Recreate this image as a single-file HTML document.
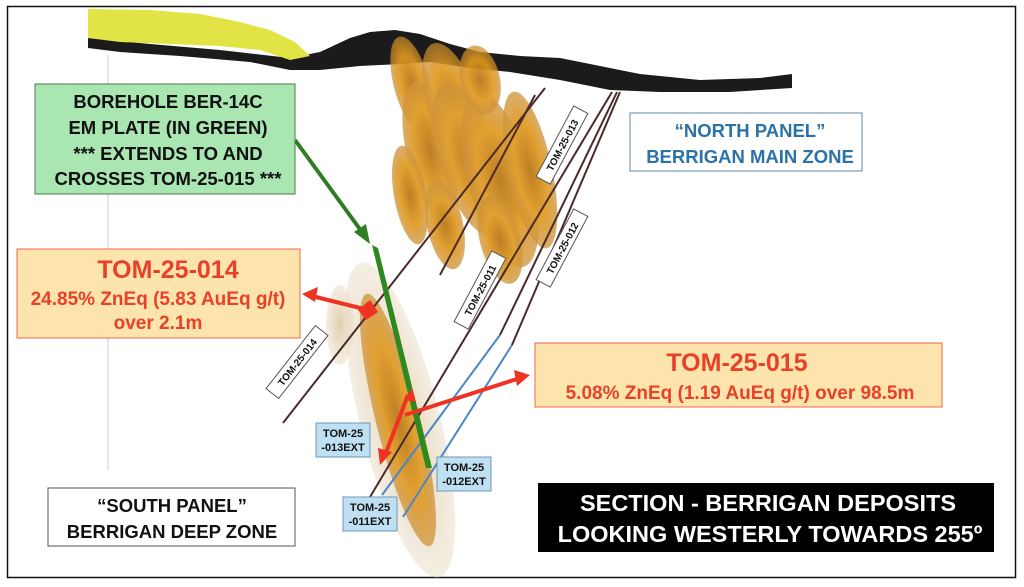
<!DOCTYPE html>
<html><head><meta charset="utf-8"><style>
html,body{margin:0;padding:0;background:#fff;}
svg{display:block;font-family:"Liberation Sans",sans-serif;font-weight:bold;}
</style></head><body>
<svg width="1024" height="587" viewBox="0 0 1024 587" xmlns="http://www.w3.org/2000/svg">
<defs>
<radialGradient id="og" cx="50%" cy="50%" r="50%">
<stop offset="0" stop-color="#b87414"/><stop offset="0.6" stop-color="#e0991f"/><stop offset="1" stop-color="#c98a2a" stop-opacity="0.75"/>
</radialGradient>
<radialGradient id="pg" cx="50%" cy="50%" r="50%">
<stop offset="0" stop-color="#c9a56a" stop-opacity="0.6"/><stop offset="1" stop-color="#e8dcc4" stop-opacity="0.5"/>
</radialGradient>
</defs>
<rect x="0" y="0" width="1024" height="587" fill="#fff"/>
<rect x="7.5" y="6.5" width="1008" height="571" fill="none" stroke="#111" stroke-width="1.5"/>
<line x1="108" y1="55" x2="108" y2="470" stroke="#c8c8e8" stroke-width="1"/>
<!-- terrain -->
<path d="M88,38 L150,44 L220,50 L290,58 L320,52 L350,38 L370,32 L395,30 L420,34 L450,44 L480,52 L520,56 L560,58 L600,66 L640,74 L700,80 L760,78 L792,74 L792,88 L730,92 L660,92 L610,90 L560,80 L510,72 L470,68 L430,62 L400,64 L360,66 L320,70 L290,70 L250,62 L180,56 L120,52 L88,48 Z" fill="#1b1b1b"/>
<path d="M88,9 L150,10 L200,14 L240,22 L270,30 L295,42 L310,56 L290,60 L260,50 L220,46 L170,44 L120,42 L88,38 Z" fill="#e2e445"/>
<!-- ore bodies -->
<g opacity="0.92">
<ellipse cx="260" cy="115" rx="10" ry="30" fill="url(#pg)" transform="rotate(-12 260 115)"/>
<ellipse cx="340" cy="325" rx="14" ry="40" fill="url(#pg)"/>
<ellipse cx="412" cy="85" rx="18" ry="50" fill="url(#og)" transform="rotate(-15 412 85)"/>
<ellipse cx="430" cy="150" rx="24" ry="70" fill="url(#og)" transform="rotate(-12 430 150)"/>
<ellipse cx="455" cy="110" rx="26" ry="70" fill="url(#og)" transform="rotate(-18 455 110)"/>
<ellipse cx="470" cy="160" rx="30" ry="80" fill="url(#og)" transform="rotate(-18 470 160)"/>
<ellipse cx="500" cy="180" rx="32" ry="90" fill="url(#og)" transform="rotate(-15 500 180)"/>
<ellipse cx="530" cy="170" rx="22" ry="80" fill="url(#og)" transform="rotate(-12 530 170)"/>
<ellipse cx="500" cy="240" rx="20" ry="45" fill="url(#og)" transform="rotate(-15 500 240)"/>
<ellipse cx="410" cy="195" rx="16" ry="50" fill="url(#og)" transform="rotate(-10 410 195)"/>
<ellipse cx="445" cy="225" rx="18" ry="45" fill="url(#og)" transform="rotate(-12 445 225)"/>
<ellipse cx="480" cy="80" rx="20" ry="35" fill="url(#og)" transform="rotate(-12 480 80)"/>
<ellipse cx="400" cy="420" rx="40" ry="162" fill="url(#pg)" transform="rotate(-14 400 420)"/>
<ellipse cx="398" cy="420" rx="22" ry="130" fill="url(#og)" transform="rotate(-14 398 420)"/>
</g>
<!-- drill lines -->
<g stroke-width="2" fill="none">
<line x1="283" y1="423" x2="545" y2="88" stroke="#4a2a2a"/>
<line x1="370" y1="497" x2="612" y2="92" stroke="#4a2a2a"/>
<line x1="382" y1="495" x2="500" y2="335" stroke="#4a86c8"/>
<line x1="500" y1="335" x2="617" y2="92" stroke="#4a2a2a"/>
<line x1="403" y1="517" x2="512" y2="345" stroke="#4a86c8"/>
<line x1="512" y1="345" x2="620" y2="92" stroke="#4a2a2a"/>
<line x1="440" y1="275" x2="535" y2="95" stroke="#4a2a2a"/>
</g>
<!-- green plate -->
<polygon points="372,245 378,248 432,468 426,468" fill="#2e8a1e"/>
<line x1="295" y1="140" x2="362" y2="232" stroke="#2e7d22" stroke-width="4"/>
<polygon points="370,244 354,232 366,224" fill="#2e7d22"/>
<!-- red arrows -->
<g stroke="#ee3322" stroke-width="4" fill="#ee3322">
<line x1="312" y1="296" x2="368" y2="310"/>
<polygon points="302,294 318,287 315,302" stroke="none"/>
<polygon points="370,300 378,312 366,320 358,310" stroke="none"/>
<line x1="405" y1="415" x2="520" y2="378"/>
<polygon points="530,375 514,370 517,386" stroke="none"/>
<line x1="385" y1="455" x2="408" y2="395"/>
<polygon points="380,465 378,448 392,452" stroke="none"/>
<polygon points="412,388 404,400 416,402" stroke="none"/>
</g>
<!-- rotated labels -->
<g font-size="10" fill="#111">
<g transform="translate(297,362) rotate(-52)"><rect x="-40" y="-8" width="80" height="16" fill="#fff" stroke="#555"/><text x="0" y="4" text-anchor="middle">TOM-25-014</text></g>
<g transform="translate(480,290) rotate(-62)"><rect x="-40" y="-8" width="80" height="16" fill="#fff" stroke="#555"/><text x="0" y="4" text-anchor="middle">TOM-25-011</text></g>
<g transform="translate(562,145) rotate(-62)"><rect x="-40" y="-8" width="80" height="16" fill="#fff" stroke="#555"/><text x="0" y="4" text-anchor="middle">TOM-25-013</text></g>
<g transform="translate(562,248) rotate(-62)"><rect x="-40" y="-8" width="80" height="16" fill="#fff" stroke="#555"/><text x="0" y="4" text-anchor="middle">TOM-25-012</text></g>
</g>
<!-- small blue labels -->
<g font-size="11" fill="#111" text-anchor="middle">
<rect x="316" y="423" width="54" height="34" fill="#bfe0f2" stroke="#6a9ab8"/>
<text x="343" y="437">TOM-25</text><text x="343" y="451">-013EXT</text>
<rect x="437" y="457" width="54" height="34" fill="#bfe0f2" stroke="#6a9ab8"/>
<text x="464" y="471">TOM-25</text><text x="464" y="485">-012EXT</text>
<rect x="343" y="497" width="54" height="34" fill="#bfe0f2" stroke="#6a9ab8"/>
<text x="370" y="511">TOM-25</text><text x="370" y="525">-011EXT</text>
</g>
<!-- green box -->
<rect x="35" y="84" width="260" height="110" fill="#a9e6b2" stroke="#4a7a4a" stroke-width="1"/>
<g font-size="18.5" fill="#111" text-anchor="middle">
<text x="168" y="108">BOREHOLE BER-14C</text>
<text x="168" y="134">EM PLATE (IN GREEN)</text>
<text x="168" y="160">*** EXTENDS TO AND</text>
<text x="168" y="185">CROSSES TOM-25-015 ***</text>
</g>
<!-- north panel -->
<rect x="630" y="113" width="232" height="58" fill="#fff" stroke="#5a88aa"/>
<g font-size="18.5" fill="#2a72a8" text-anchor="middle">
<text x="750" y="137">“NORTH PANEL”</text><text x="750" y="163">BERRIGAN MAIN ZONE</text>
</g>
<!-- TOM-25-014 -->
<rect x="17" y="249" width="283" height="89" fill="#fde4ad" stroke="#ef6a4a"/>
<g fill="#e8412a" text-anchor="middle">
<text x="168" y="278" font-size="25">TOM-25-014</text>
<text x="158" y="305" font-size="19">24.85% ZnEq (5.83 AuEq g/t)</text>
<text x="158" y="329" font-size="19">over 2.1m</text>
</g>
<!-- TOM-25-015 -->
<rect x="535" y="343" width="407" height="64" fill="#fde4ad" stroke="#ef6a4a"/>
<g fill="#e8412a" text-anchor="middle">
<text x="737" y="371" font-size="25">TOM-25-015</text>
<text x="740" y="399" font-size="19">5.08% ZnEq (1.19 AuEq g/t) over 98.5m</text>
</g>
<!-- south panel -->
<rect x="48" y="488" width="247" height="58" fill="#fff" stroke="#555"/>
<g font-size="18.5" fill="#111" text-anchor="middle">
<text x="172" y="512">“SOUTH PANEL”</text><text x="172" y="538">BERRIGAN DEEP ZONE</text>
</g>
<!-- section box -->
<rect x="538" y="483" width="456" height="69" fill="#000"/>
<g font-size="23.5" fill="#fff" text-anchor="middle">
<text x="768" y="511">SECTION - BERRIGAN DEPOSITS</text>
<text x="770" y="542">LOOKING WESTERLY TOWARDS 255º</text>
</g>
</svg>
</body></html>
